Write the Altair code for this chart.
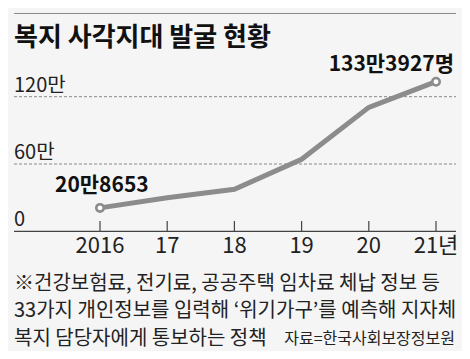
import altair as alt
import pandas as pd

years = [2016, 2017, 2018, 2019, 2020, 2021]
values = [20.8653, 29.9, 37.4, 64.2, 110.5, 133.3927]  # 만 명
x_labels = ["2016", "17", "18", "19", "20", "21년"]
y_ticks = [0, 60, 120]
y_labels = ["0", "60만", "120만"]
end_labels = ["20만8653", "133만3927명"]
title = "복지 사각지대 발굴 현황"
notes = ["※건강보험료, 전기료, 공공주택 임차료 체납 정보 등",
         "33가지 개인정보를 입력해 ‘위기가구’를 예측해 지자체",
         "복지 담당자에게 통보하는 정책"]
source = "자료=한국사회보장정보원"

NUM = "Noto Sans CJK KR"
KR = "Noto Sans CJK KR"
GREY = "#8c8c8c"
BG = "#f5f5f5"

df = pd.DataFrame({"year": years, "value": values, "label": x_labels})
ends = pd.DataFrame({"year": [years[0], years[-1]],
                     "value": [values[0], values[-1]],
                     "text": end_labels})
grid = pd.DataFrame({"v": y_ticks, "t": y_labels})
one = pd.DataFrame({"t": [title]})

xs = alt.Scale(domain=[2016, 2021], range=[92, 428])
ys = alt.Scale(domain=[0, 120], range=[223.3, 88.7])
X = alt.X("year:Q", scale=xs, axis=None)
Y = alt.Y("value:Q", scale=ys, axis=None)

top_rule = alt.Chart(one).mark_rule(color="#8a8a8a", strokeWidth=1.2).encode(
    x=alt.value(6), x2=alt.value(448), y=alt.value(5.5))
title_txt = alt.Chart(one).mark_text(
    align="left", baseline="middle", font=KR, fontSize=26, fontWeight="bold",
    color="#111").encode(x=alt.value(6), y=alt.value(29.5), text="t:N")

gridlines = alt.Chart(grid).transform_filter("datum.v > 0").mark_rule(
    color="#888", strokeDash=[3, 2], strokeWidth=1).encode(
    y=alt.Y("v:Q", scale=ys, axis=None), x=alt.value(6), x2=alt.value(448))
ylab = alt.Chart(grid).mark_text(
    align="left", baseline="alphabetic", dy=-5, font=NUM, fontSize=20,
    color="#222").encode(
    y=alt.Y("v:Q", scale=ys, axis=None), x=alt.value(6), text="t:N")

axis_line = alt.Chart(one).mark_rule(color="#444", strokeWidth=1.2).encode(
    x=alt.value(6), x2=alt.value(448), y=alt.value(223.3))
ticks = alt.Chart(df).mark_rule(color="#444", strokeWidth=1.2).encode(
    x=X, y=alt.value(213), y2=alt.value(223.3))
xlab = alt.Chart(df).mark_text(
    align="center", baseline="alphabetic", font=NUM, fontSize=22,
    color="#222").encode(x=X, y=alt.value(245), text="label:N")

line = alt.Chart(df).mark_line(color=GREY, strokeWidth=5).encode(x=X, y=Y)
pts = alt.Chart(ends).mark_point(
    shape="circle", filled=True, fill="white", stroke=GREY, strokeWidth=2.6,
    size=55, opacity=1).encode(x=X, y=Y)
lab_l = alt.Chart(ends).transform_filter("datum.year == 2016").mark_text(
    align="left", baseline="alphabetic", dx=-45, dy=-16, font=NUM,
    fontSize=21, fontWeight="bold", color="#111").encode(x=X, y=Y, text="text:N")
lab_r = alt.Chart(ends).transform_filter("datum.year == 2021").mark_text(
    align="right", baseline="alphabetic", dx=18, dy=-10.5, font=NUM,
    fontSize=21, fontWeight="bold", color="#111").encode(x=X, y=Y, text="text:N")

note_layers = []
for i, (txt, yy) in enumerate(zip(notes, [275.5, 303, 330.5])):
    note_layers.append(
        alt.Chart(pd.DataFrame({"t": [txt]})).mark_text(
            align="left", baseline="middle", font=KR, fontSize=20,
            color="#222").encode(x=alt.value(6), y=alt.value(yy), text="t:N"))
src = alt.Chart(pd.DataFrame({"t": [source]})).mark_text(
    align="right", baseline="middle", font=KR, fontSize=16,
    color="#222").encode(x=alt.value(447), y=alt.value(331), text="t:N")

chart = alt.layer(
    top_rule, title_txt, gridlines, ylab, axis_line, ticks, xlab,
    line, pts, lab_l, lab_r, *note_layers, src
).properties(
    width=454, height=343,
    autosize=alt.AutoSizeParams(type="none"),
    padding=0, background=BG,
).configure_view(strokeWidth=0)

chart.save("out.html", embed_options={"renderer": "svg", "actions": False})
